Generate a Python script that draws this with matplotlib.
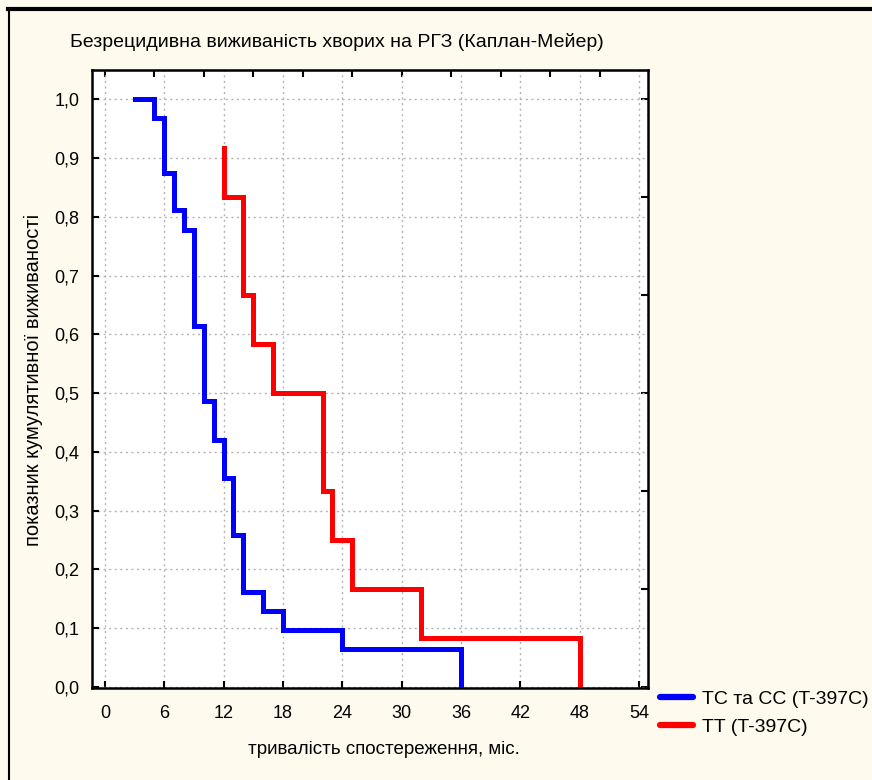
# Kaplan-Meier chart: relapse-free survival, two genotype groups
import matplotlib
matplotlib.use("Agg")
from matplotlib import pyplot as plt
from matplotlib.lines import Line2D
import numpy as np

# group TC + CC (T-397C)
blue_time = [3, 5, 6, 7, 8, 9, 10, 11, 12, 13, 14, 16, 18, 24, 36]
blue_surv = [1.0, 0.969, 0.875, 0.811, 0.778, 0.615, 0.486, 0.42, 0.355,
             0.258, 0.161, 0.129, 0.097, 0.065, 0.0]

# group TT (T-397C)
red_time = [12, 12, 14, 15, 17, 22, 23, 25, 32, 48]
red_surv = [0.917, 0.833, 0.667, 0.583, 0.5, 0.333, 0.25, 0.167, 0.083, 0.0]

labels = ["TC та CC (T-397C)", "TT (T-397C)"]
x_ticks = list(range(0, 55, 6))
y_ticks = [round(0.1 * i, 1) for i in range(11)]
y_tick_labels = [f"{v:.1f}".replace(".", ",") for v in y_ticks]

plt.rcParams['font.family'] = ['Liberation Sans', 'DejaVu Sans']

bg = '#fffaee'
fig = plt.figure(figsize=(8.72, 7.8), dpi=100, facecolor=bg)
ax = fig.add_axes([92 / 872, 1 - 688 / 780, (648 - 92) / 872, (688 - 70) / 780])
ax.set_facecolor('white')

ax.step(blue_time, blue_surv, where='post', color='#0000ff', linewidth=3.6,
        solid_joinstyle='miter')
ax.step(red_time, red_surv, where='post', color='#ff0000', linewidth=3.6,
        solid_joinstyle='miter')

ax.set_xlim(-1.3, 54.9)
ax.set_ylim(-0.002, 1.05)
ax.set_xticks(x_ticks)
ax.set_yticks(y_ticks)
ax.set_yticklabels(y_tick_labels)
ax.tick_params(direction='in', length=5, width=1.5, labelsize=13)
ax.tick_params(axis='x', pad=12)
ax.tick_params(axis='y', pad=9)
ax.grid(True, color='#b4b4b4', linestyle=(0, (1.5, 2.5)), linewidth=1.0)
for s in ax.spines.values():
    s.set_linewidth(1.8)

# secondary tick marks on the top and right sides
top = ax.secondary_xaxis('top')
top.set_xticks(list(range(0, 55, 5)))
top.set_xticklabels([])
top.tick_params(direction='in', length=5, width=1.5)
right = ax.secondary_yaxis('right')
right.set_yticks([i / 6 for i in range(7)])
right.set_yticklabels([])
right.tick_params(direction='in', length=5, width=1.5)

fig.text(70 / 872, 1 - 42 / 780, "Безрецидивна виживаність хворих на РГЗ (Каплан-Мейер)",
         ha='left', va='center', fontsize=14)
fig.text(33 / 872, 1 - 380 / 780, "показник кумулятивної виживаності",
         rotation=90, ha='center', va='center', fontsize=14.5)
fig.text(384 / 872, 1 - 750 / 780, "тривалість спостереження, міс.",
         ha='center', va='center', fontsize=13.5)

handles = [Line2D([], [], color='#0000ff', linewidth=4.5, solid_capstyle='round'),
           Line2D([], [], color='#ff0000', linewidth=4.5, solid_capstyle='round')]
fig.legend(handles, labels, loc='upper left', bbox_to_anchor=(660 / 872, 1 - 690 / 780),
           frameon=False, fontsize=14, handlelength=1.7, handletextpad=0.45,
           labelspacing=0.55, borderaxespad=0, borderpad=0)

# window frame lines (top band and left edge)
fig.add_artist(Line2D([8 / 872, 1], [1 - 9 / 780, 1 - 9 / 780], color='black', linewidth=3))
fig.add_artist(Line2D([9 / 872, 9 / 872], [0, 1 - 9 / 780], color='black', linewidth=1.5))

fig.savefig("out.png", dpi=100, facecolor=bg)
